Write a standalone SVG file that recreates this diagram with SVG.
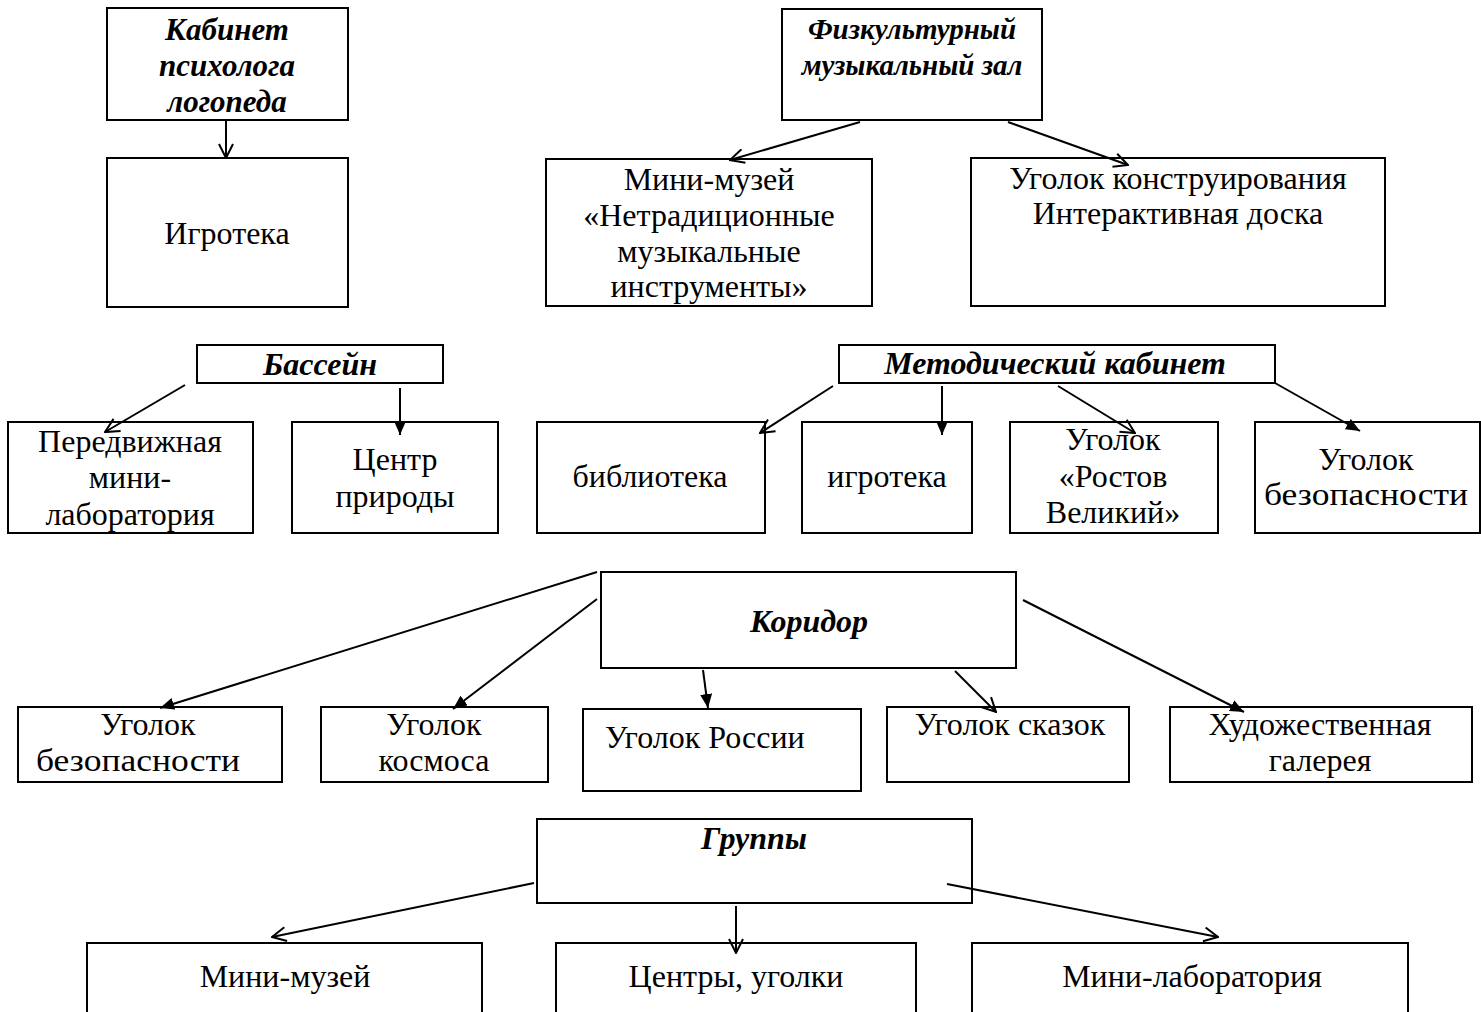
<svg xmlns="http://www.w3.org/2000/svg" width="1481" height="1012" viewBox="0 0 1481 1012">
<defs>
<style>
.box{fill:#fff;stroke:#000;stroke-width:2}
.t{font-family:"Liberation Serif","Times New Roman",serif;font-size:32px;text-anchor:middle;fill:#000}
.h{font-family:"Liberation Serif","Times New Roman",serif;font-size:32px;font-weight:bold;font-style:italic;text-anchor:middle;fill:#000}
.c{stroke:#000;stroke-width:2;fill:none}
.o{marker-end:url(#open)}
.f{marker-end:url(#fill)}
</style>
<marker id="open" viewBox="0 0 16 16" refX="15" refY="8" markerWidth="16" markerHeight="16" markerUnits="userSpaceOnUse" orient="auto">
<path d="M1,1 L15,8 L1,15" fill="none" stroke="#000" stroke-width="2"/>
</marker>
<marker id="fill" viewBox="0 0 14 12" refX="14" refY="6" markerWidth="14" markerHeight="12" markerUnits="userSpaceOnUse" orient="auto">
<path d="M0,0 L14,6 L0,12 Z" fill="#000"/>
</marker>
</defs>
<rect width="1481" height="1012" fill="#fff"/>

<g id="kabinet">
<rect class="box" x="107" y="8" width="241" height="112"/>
<text class="h" x="227" y="40" style="font-size:31px">Кабинет</text>
<text class="h" x="227" y="76" style="font-size:31px">психолога</text>
<text class="h" x="227" y="112" style="font-size:31px">логопеда</text>
</g>
<g id="igroteka1">
<rect class="box" x="107" y="158" width="241" height="149"/>
<text class="t" x="227" y="244">Игротека</text>
</g>

<g id="fizkult">
<rect class="box" x="782" y="9" width="260" height="111"/>
<text class="h" x="912" y="39" style="font-size:29px">Физкультурный</text>
<text class="h" x="912" y="75" style="font-size:29px">музыкальный зал</text>
</g>
<g id="minimuzei1">
<rect class="box" x="546" y="159" width="326" height="147"/>
<text class="t" x="709" y="190">Мини-музей</text>
<text class="t" x="709" y="226">«Нетрадиционные</text>
<text class="t" x="709" y="262">музыкальные</text>
<text class="t" x="709" y="297">инструменты»</text>
</g>
<g id="konstr">
<rect class="box" x="971" y="158" width="414" height="148"/>
<text class="t" x="1178" y="189">Уголок конструирования</text>
<text class="t" x="1178" y="224">Интерактивная доска</text>
</g>

<g id="bassein">
<rect class="box" x="197" y="345" width="246" height="38"/>
<text class="h" x="320" y="375">Бассейн</text>
</g>
<g id="peredv">
<rect class="box" x="8" y="422" width="245" height="111"/>
<text class="t" x="130" y="452">Передвижная</text>
<text class="t" x="130" y="488">мини-</text>
<text class="t" x="130" y="525">лаборатория</text>
</g>
<g id="centr">
<rect class="box" x="292" y="422" width="206" height="111"/>
<text class="t" x="395" y="470">Центр</text>
<text class="t" x="395" y="507">природы</text>
</g>

<g id="metod">
<rect class="box" x="839" y="345" width="436" height="38"/>
<text class="h" x="1055" y="374">Методический кабинет</text>
</g>
<g id="biblioteka">
<rect class="box" x="537" y="422" width="228" height="111"/>
<text class="t" x="650" y="487">библиотека</text>
</g>
<g id="igroteka2">
<rect class="box" x="802" y="422" width="170" height="111"/>
<text class="t" x="887" y="487">игротека</text>
</g>
<g id="rostov">
<rect class="box" x="1010" y="422" width="208" height="111"/>
<text class="t" x="1113" y="450">Уголок</text>
<text class="t" x="1113" y="487">«Ростов</text>
<text class="t" x="1113" y="523">Великий»</text>
</g>
<g id="bezop1">
<rect class="box" x="1255" y="422" width="225" height="111"/>
<text class="t" x="1366" y="470">Уголок</text>
<text class="t" x="1366" y="505" textLength="204" lengthAdjust="spacingAndGlyphs">безопасности</text>
</g>

<g id="koridor">
<rect class="box" x="601" y="572" width="415" height="96"/>
<text class="h" x="809" y="632">Коридор</text>
</g>
<g id="bezop2">
<rect class="box" x="18" y="707" width="264" height="75"/>
<text class="t" x="148" y="735">Уголок</text>
<text class="t" x="138" y="771" textLength="204" lengthAdjust="spacingAndGlyphs">безопасности</text>
</g>
<g id="kosmos">
<rect class="box" x="321" y="707" width="227" height="75"/>
<text class="t" x="434" y="735">Уголок</text>
<text class="t" x="434" y="771">космоса</text>
</g>
<g id="rossii">
<rect class="box" x="583" y="709" width="278" height="82"/>
<text class="t" x="605" y="748" style="text-anchor:start">Уголок России</text>
</g>
<g id="skazok">
<rect class="box" x="887" y="707" width="242" height="75"/>
<text class="t" x="1010" y="735">Уголок сказок</text>
</g>
<g id="galereya">
<rect class="box" x="1170" y="707" width="302" height="75"/>
<text class="t" x="1320" y="735">Художественная</text>
<text class="t" x="1320" y="771">галерея</text>
</g>

<g id="gruppy">
<rect class="box" x="537" y="819" width="435" height="84"/>
<text class="h" x="754" y="849">Группы</text>
</g>
<g id="minimuzei2">
<rect class="box" x="87" y="943" width="395" height="80"/>
<text class="t" x="285" y="987">Мини-музей</text>
</g>
<g id="centry">
<rect class="box" x="556" y="943" width="360" height="80"/>
<text class="t" x="736" y="987">Центры, уголки</text>
</g>
<g id="minilab">
<rect class="box" x="972" y="943" width="436" height="80"/>
<text class="t" x="1192" y="987">Мини-лаборатория</text>
</g>

<g id="connectors">
<line class="c o" x1="226" y1="120" x2="226" y2="158"/>
<line class="c o" x1="860" y1="122" x2="730" y2="160"/>
<line class="c o" x1="1008" y1="122" x2="1128" y2="165"/>
<line class="c o" x1="185" y1="385" x2="105" y2="432"/>
<line class="c f" x1="400" y1="388" x2="400" y2="435"/>
<line class="c o" x1="833" y1="386" x2="760" y2="433"/>
<line class="c f" x1="942" y1="386" x2="942" y2="435"/>
<line class="c o" x1="1058" y1="386" x2="1135" y2="433"/>
<line class="c f" x1="1275" y1="383" x2="1360" y2="431"/>
<line class="c f" x1="597" y1="572" x2="160" y2="708"/>
<line class="c f" x1="597" y1="599" x2="453" y2="709"/>
<line class="c f" x1="703" y1="670" x2="708" y2="708"/>
<line class="c o" x1="955" y1="671" x2="996" y2="712"/>
<line class="c f" x1="1023" y1="600" x2="1244" y2="712"/>
<line class="c o" x1="534" y1="883" x2="272" y2="937"/>
<line class="c o" x1="736" y1="906" x2="736" y2="953"/>
<line class="c o" x1="947" y1="884" x2="1218" y2="937"/>
</g>
</svg>
